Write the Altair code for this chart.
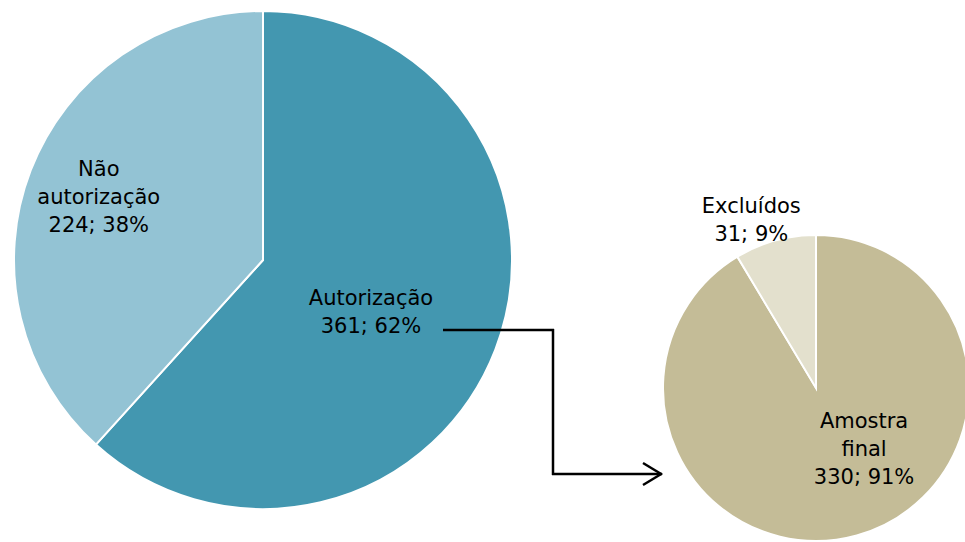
import altair as alt
import pandas as pd

# Left pie
left_cats = ["Autorização", "Não autorização"]
left_vals = [361, 224]
left_pcts = [62, 38]
left_names = ["Autorização", "Não\nautorização"]
left_colors = ["#4397B0", "#93C3D4"]

# Right pie
right_cats = ["Amostra final", "Excluídos"]
right_vals = [330, 31]
right_pcts = [91, 9]
right_names = ["Amostra\nfinal", "Excluídos"]
right_colors = ["#C4BC97", "#E3E0CD"]

FONT = "DejaVu Sans"


def make_df(cats, vals, pcts, names):
    return pd.DataFrame({
        "cat": cats,
        "value": vals,
        "ord": list(range(len(cats))),
        "label": [f"{n}\n{v}; {p}%" for n, v, p in zip(names, vals, pcts)],
    })


def pie(df, colors, cx, cy, r, label_specs):
    base = alt.Chart(df).encode(
        theta=alt.Theta("value:Q", stack=True),
        order=alt.Order("ord:Q"),
        x=alt.value(cx),
        y=alt.value(cy),
    )
    arc = base.mark_arc(radius=r, stroke="white", strokeWidth=2).encode(
        color=alt.Color("cat:N", scale=alt.Scale(domain=list(df["cat"]), range=colors), legend=None)
    )
    layers = [arc]
    for cat, lr, dx, dy in label_specs:
        t = base.transform_calculate(
            t=f"datum.cat == '{cat}' ? datum.label : ''"
        ).mark_text(
            radius=lr, dx=dx, dy=dy, fontSize=21, font=FONT, color="black",
            lineBreak="\n", lineHeight=28, align="center", baseline="middle",
        ).encode(text="t:N")
        layers.append(t)
    return alt.layer(*layers)


left = pie(make_df(left_cats, left_vals, left_pcts, left_names), left_colors, 263, 260, 249,
           [("Autorização", 120, -4, -4), ("Não autorização", 176, 0, -27)])
right = pie(make_df(right_cats, right_vals, right_pcts, right_names), right_colors, 816, 388, 153,
            [("Amostra final", 79, 27, -42), ("Excluídos", 179, -17, -8)])

one = pd.DataFrame({"a": [0]})
rule_style = dict(color="black", strokeWidth=2.5)
r1 = alt.Chart(one).mark_rule(**rule_style).encode(x=alt.value(443), x2=alt.value(554), y=alt.value(330))
r2 = alt.Chart(one).mark_rule(**rule_style).encode(x=alt.value(553), y=alt.value(329), y2=alt.value(475))
r3 = alt.Chart(one).mark_rule(**rule_style).encode(x=alt.value(552), x2=alt.value(661), y=alt.value(474))
h1 = alt.Chart(one).mark_rule(**rule_style).encode(x=alt.value(643), x2=alt.value(662), y=alt.value(463), y2=alt.value(474.5))
h2 = alt.Chart(one).mark_rule(**rule_style).encode(x=alt.value(643), x2=alt.value(662), y=alt.value(485), y2=alt.value(473.5))

chart = alt.layer(left, right, r1, r2, r3, h1, h2).resolve_scale(
    theta="independent", color="independent"
).properties(
    width=965, height=542, padding=0, autosize=alt.AutoSizeParams(type="none"),
    background="white",
).configure_view(stroke=None)

chart.save("out.html", embed_options={"renderer": "svg", "actions": False})
